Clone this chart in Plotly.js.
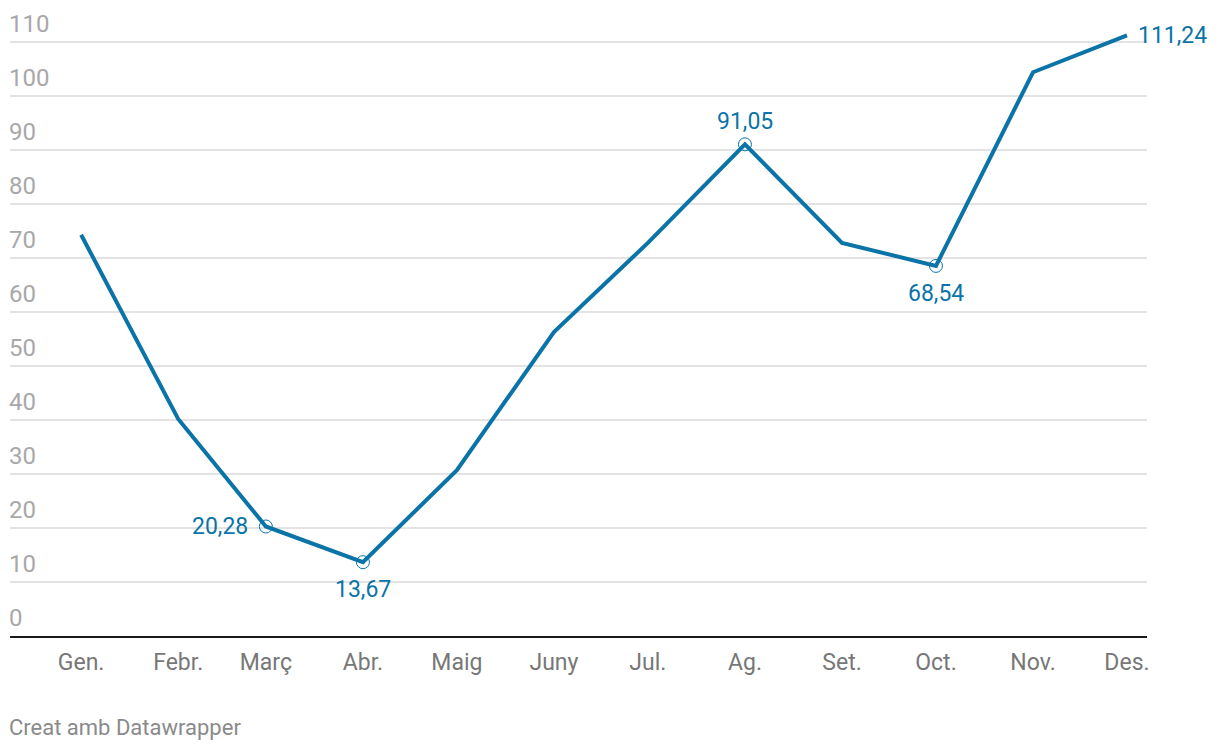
<!DOCTYPE html>
<html>
<head>
<meta charset="utf-8">
<script src="https://cdn.plot.ly/plotly-3.0.1.min.js"></script>
<style>
html,body{margin:0;padding:0;background:#fff;}
#chart{width:1220px;height:752px;}
</style>
</head>
<body>
<div id="chart"></div>
<script>
var months = ["Gen.","Febr.","Març","Abr.","Maig","Juny","Jul.","Ag.","Set.","Oct.","Nov.","Des."];
var dates = ["2023-01-01","2023-02-01","2023-03-01","2023-04-01","2023-05-01","2023-06-01",
             "2023-07-01","2023-08-01","2023-09-01","2023-10-01","2023-11-01","2023-12-01"];
var values = [74.3, 40.2, 20.28, 13.67, 30.7, 56.3, 72.8, 91.05, 72.8, 68.54, 104.4, 111.24];
var labelledIdx = [2, 3, 7, 9, 11];
var labelPos = ["left", "below", "above", "below", "right"];
var circledIdx = [2, 3, 7, 9];
var yTicks = [0,10,20,30,40,50,60,70,80,90,100,110];

var blue = "#0a73a7";

var traces = [
  {x: dates, y: values, type: "scatter", mode: "lines",
   line: {color: blue, width: 4}, hoverinfo: "skip"},
  {x: circledIdx.map(function(i){return dates[i];}), y: circledIdx.map(function(i){return values[i];}),
   type: "scatter", mode: "markers",
   marker: {symbol: "circle-open", size: 13, color: blue, line: {width: 1, color: blue}},
   hoverinfo: "skip"}
];

function fmt(v){ return v.toFixed(2).replace(".", ","); }

var annotations = labelledIdx.map(function(i, k){
  var p = labelPos[k];
  var a = {x: dates[i], y: values[i], xref: "x", yref: "y", text: fmt(values[i]),
    showarrow: false, font: {family: "Roboto", size: 23, color: blue}};
  if (p === "left") { a.xanchor = "right"; a.yanchor = "middle"; a.xshift = -16; }
  if (p === "right") { a.xanchor = "left"; a.yanchor = "middle"; a.xshift = 9; }
  if (p === "above") { a.xanchor = "center"; a.yanchor = "bottom"; a.yshift = 7; }
  if (p === "below") { a.xanchor = "center"; a.yanchor = "top"; a.yshift = -12; }
  return a;
});
yTicks.forEach(function(t){
  annotations.push({xref: "paper", yref: "y", x: 0, y: t, xanchor: "left", yanchor: "bottom",
    yshift: 2, xshift: -3, text: String(t), showarrow: false,
    font: {family: "Roboto", size: 24, color: "#a8a8a8"}});
});
annotations.push({xref: "paper", yref: "paper", x: 0, xshift: -3, y: -0.148, xanchor: "left", yanchor: "middle",
  text: "Creat amb Datawrapper", showarrow: false,
  font: {family: "Roboto", size: 22, color: "#8a8a8a"}});

var layout = {
  width: 1220, height: 752,
  margin: {l: 10, r: 73, t: 15, b: 116},
  paper_bgcolor: "#fff", plot_bgcolor: "#fff",
  showlegend: false,
  font: {family: "Roboto"},
  xaxis: {
    type: "date",
    range: ["2022-12-09 07:00", "2023-12-07 09:30"],
    tickvals: dates, ticktext: months,
    showgrid: false, zeroline: false,
    showline: true, linecolor: "#1a1a1a", linewidth: 2,
    ticks: "", ticklabelstandoff: 4,
    tickfont: {family: "Roboto", size: 23, color: "#777"},
    fixedrange: true
  },
  yaxis: {
    range: [0, 115],
    tickvals: yTicks, showticklabels: false,
    showgrid: true, gridcolor: "#e3e3e3", gridwidth: 2,
    zeroline: false, showline: false, ticks: "",
    fixedrange: true
  },
  annotations: annotations
};

Plotly.newPlot("chart", traces, layout, {displayModeBar: false, staticPlot: true});
</script>
</body>
</html>
